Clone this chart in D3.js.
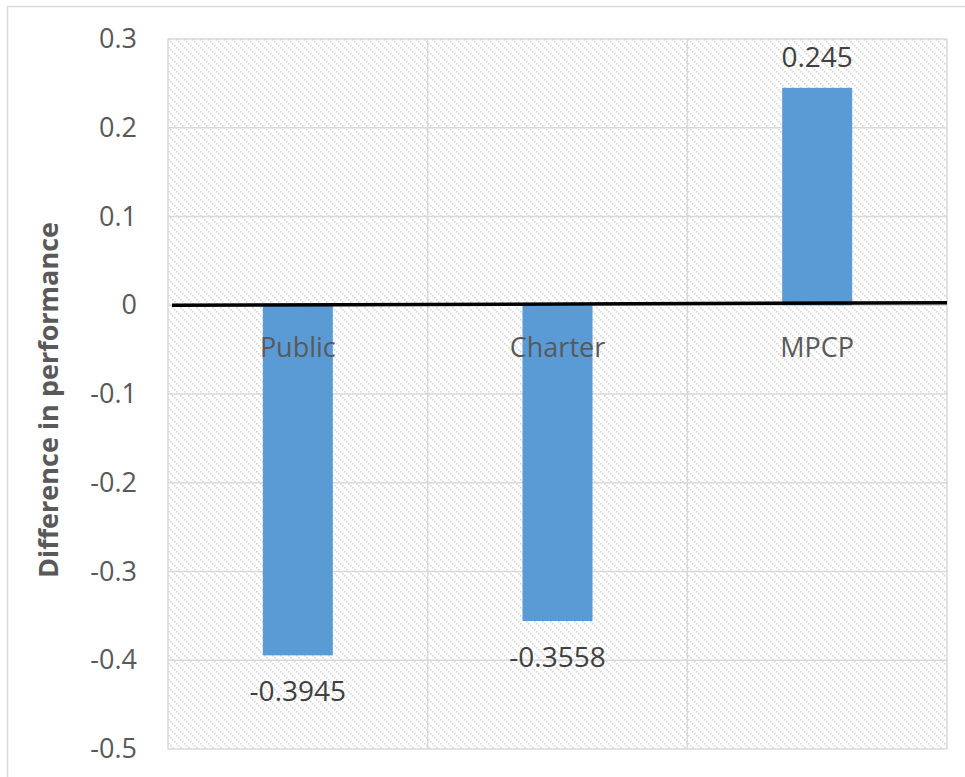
<!DOCTYPE html>
<html>
<head>
<meta charset="utf-8">
<script src="https://cdn.jsdelivr.net/npm/d3@7"></script>
<style>
  html, body { margin: 0; padding: 0; background: #ffffff; }
  svg { display: block; }
  text { font-family: "Open Sans", "Liberation Sans", sans-serif; }
</style>
</head>
<body>
<svg id="chart" width="965" height="777"></svg>
<script>
// Difference in performance by school sector
const categories = ["Public", "Charter", "MPCP"];
const values = [-0.3945, -0.3558, 0.245];
const valueLabels = ["-0.3945", "-0.3558", "0.245"];
const yTicks = [0.3, 0.2, 0.1, 0, -0.1, -0.2, -0.3, -0.4, -0.5];
const yTickLabels = ["0.3", "0.2", "0.1", "0", "-0.1", "-0.2", "-0.3", "-0.4", "-0.5"];
const yTitle = "Difference in performance";

const W = 965, H = 777;
const margin = { left: 168, right: 18, top: 39, bottom: 28 };
const plotW = W - margin.left - margin.right;
const plotH = H - margin.top - margin.bottom;

const svg = d3.select("#chart");

// outer chart frame
svg.append("rect")
  .attr("x", 7.5).attr("y", 6.5)
  .attr("width", 990).attr("height", 800)
  .attr("fill", "#ffffff")
  .attr("stroke", "#d9d9d9").attr("stroke-width", 1.5);

// dotted downward-diagonal hatch used for the plot area fill
const defs = svg.append("defs");
const pat = defs.append("pattern")
  .attr("id", "hatch")
  .attr("patternUnits", "userSpaceOnUse")
  .attr("width", 8).attr("height", 8);
pat.append("rect").attr("width", 8).attr("height", 8).attr("fill", "#ffffff");
[0, 2, 4, 6].forEach(d => {
  pat.append("rect")
    .attr("x", d).attr("y", d)
    .attr("width", 1.6).attr("height", 1.6)
    .attr("fill", "#d6d6d6");
});

const x = d3.scaleBand()
  .domain(categories)
  .range([0, plotW])
  .paddingInner(0).paddingOuter(0);

const y = d3.scaleLinear()
  .domain([-0.5, 0.3])
  .range([plotH, 0]);

const g = svg.append("g").attr("transform", `translate(${margin.left},${margin.top})`);

g.append("rect")
  .attr("width", plotW).attr("height", plotH)
  .attr("fill", "url(#hatch)");

// horizontal gridlines
g.append("g")
  .selectAll("line")
  .data(yTicks)
  .join("line")
  .attr("x1", 0).attr("x2", plotW)
  .attr("y1", d => y(d)).attr("y2", d => y(d))
  .attr("stroke", "#d9d9d9").attr("stroke-width", 1.5);

// vertical gridlines at category boundaries
const bounds = categories.map(c => x(c)).concat([plotW]);
g.append("g")
  .selectAll("line")
  .data(bounds)
  .join("line")
  .attr("x1", d => d).attr("x2", d => d)
  .attr("y1", 0).attr("y2", plotH)
  .attr("stroke", "#d9d9d9").attr("stroke-width", 1.5);

// y axis tick labels
const yAxis = d3.axisLeft(y)
  .tickValues(yTicks)
  .tickFormat((d, i) => yTickLabels[i])
  .tickSize(0)
  .tickPadding(31);
const ya = g.append("g").call(yAxis);
ya.select(".domain").remove();
ya.selectAll("text")
  .attr("fill", "#595959")
  .style("font-size", "27px")
  .style("font-family", "'Open Sans', sans-serif");

// bars
const barW = 70;
g.append("g")
  .selectAll("rect")
  .data(values)
  .join("rect")
  .attr("x", (d, i) => x(categories[i]) + x.bandwidth() / 2 - barW / 2)
  .attr("y", d => y(Math.max(0, d)))
  .attr("width", barW)
  .attr("height", d => Math.abs(y(d) - y(0)))
  .attr("fill", "#5b9bd5");

// category labels sit just below the zero line
g.append("g")
  .selectAll("text")
  .data(categories)
  .join("text")
  .attr("x", d => x(d) + x.bandwidth() / 2)
  .attr("y", y(0) + 52)
  .attr("text-anchor", "middle")
  .attr("fill", "#595959")
  .style("font-size", "27px")
  .text(d => d);

// zero baseline
g.append("line")
  .attr("x1", 4).attr("x2", plotW)
  .attr("y1", y(0)).attr("y2", y(0) - 2.5)
  .attr("stroke", "#000000").attr("stroke-width", 3.5);

// value labels
g.append("g")
  .selectAll("text")
  .data(values)
  .join("text")
  .attr("x", (d, i) => x(categories[i]) + x.bandwidth() / 2)
  .attr("y", d => d >= 0 ? y(d) - 21 : y(d) + 46)
  .attr("text-anchor", "middle")
  .attr("fill", "#404040")
  .style("font-size", "28px")
  .text((d, i) => valueLabels[i]);

// y axis title
svg.append("text")
  .attr("transform", `translate(58, ${margin.top + y(-0.1) + 6}) rotate(-90)`)
  .attr("text-anchor", "middle")
  .attr("fill", "#595959")
  .style("font-size", "27px")
  .style("font-weight", "bold")
  .text(yTitle);
</script>
</body>
</html>
